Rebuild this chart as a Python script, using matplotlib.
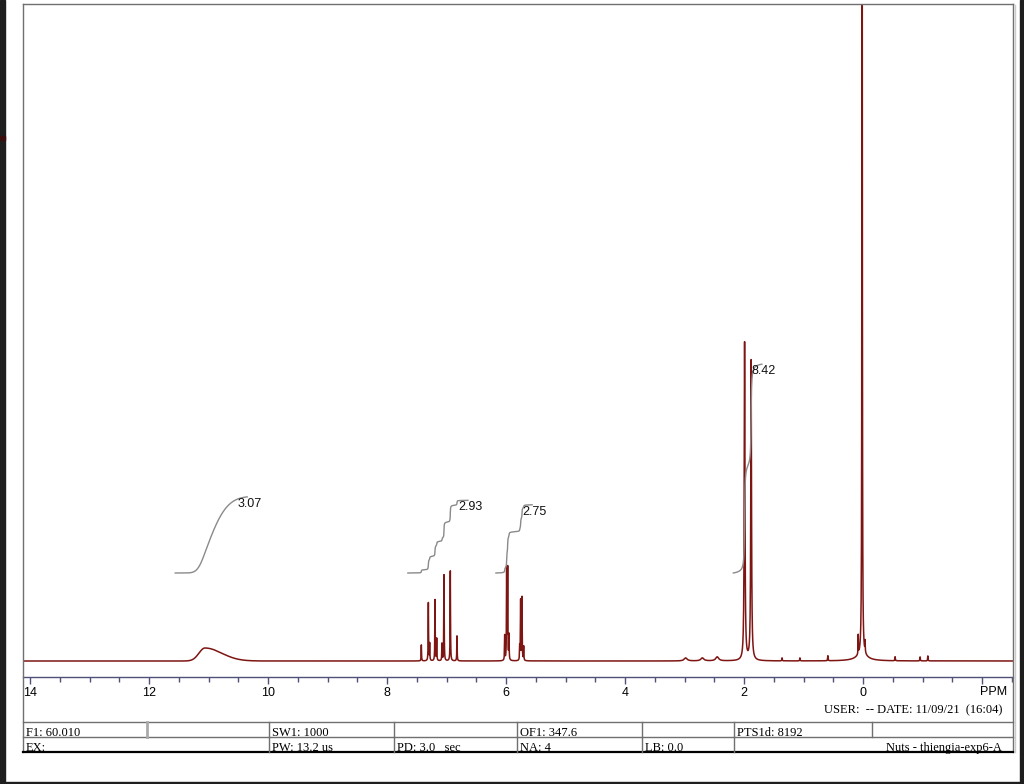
import numpy as np
import matplotlib
matplotlib.use("Agg")
import matplotlib.pyplot as plt
from matplotlib.lines import Line2D
from matplotlib.patches import Rectangle
from matplotlib.ticker import MultipleLocator

plt.rcParams['font.family'] = ['Liberation Sans', 'DejaVu Sans']

# peak list: shift (ppm), height (px above baseline), half width (ppm)
peak_ppm = [7.423, 7.305, 7.283, 7.193, 7.165, 7.076, 7.042, 6.936, 6.824,
            6.022, 5.989, 5.972, 5.950, 5.770, 5.754, 5.731, 5.703,
            1.990, 1.880,
            0.015, 0.080, -0.035, 0.020,
            2.98, 2.70, 2.45, 1.36, 1.06, 0.59, -0.54, -0.96, -1.09]
peak_height = [16, 58, 17, 61, 22, 17, 86, 90, 25,
               25, 91, 91, 25, 14, 60, 63, 14,
               318, 300,
               1000, 19, 11, 5,
               3, 3, 4, 3, 3, 5, 4, 4, 5]
peak_width = [0.0035, 0.0035, 0.0035, 0.0035, 0.0035, 0.0035, 0.0035, 0.0035, 0.0035,
              0.0035, 0.0035, 0.0035, 0.0035, 0.0035, 0.0035, 0.0035, 0.0035,
              0.0072, 0.0072,
              0.004, 0.003, 0.003, 0.12,
              0.03, 0.03, 0.03, 0.004, 0.004, 0.004, 0.004, 0.004, 0.004]

# broad exchangeable hump
hump_ppm = 11.06
hump_height = 13
hump_sigma_left = 0.10
hump_sigma_right = 0.28

# integral regions
int_start = [11.56, 7.65, 6.17, 2.18]
int_end = [10.35, 6.64, 5.56, 1.70]
int_value = [3.07, 2.93, 2.75, 8.42]
int_base = 88
int_scale = 24.8

tick_ppm = [14, 12, 10, 8, 6, 4, 2, 0, -2]
tick_text = ["14", "12", "10", "8", "6", "4", "2", "0", ""]

row1 = [("F1: 60.010", 23), ("SW1: 1000", 269), ("OF1: 347.6", 517), ("PTS1d: 8192", 734)]
row2 = [("EX:", 23), ("PW: 13.2 us", 269), ("PD: 3.0   sec", 394), ("NA: 4", 517), ("LB: 0.0", 642)]
row1_seps = [147, 269, 394, 517, 642, 734, 872]
row2_seps = [269, 394, 517, 642, 734]
user_text = "USER:  -- DATE: 11/09/21  (16:04)"
file_text = "Nuts - thiengia-exp6-A"

W, H = 1024, 784
fx = lambda px: px / W
fy = lambda py: 1 - py / H

fig = plt.figure(figsize=(W / 100, H / 100), dpi=100)
fig.patch.set_facecolor("white")

def fline(x0, y0, x1, y1, c="#707070", lw=1.0):
    fig.add_artist(Line2D([fx(x0), fx(x1)], [fy(y0), fy(y1)], transform=fig.transFigure, color=c, lw=lw))

# spectrum
ppm = np.union1d(np.linspace(-2.6, 14.2, 24001), peak_ppm)
spec = np.zeros_like(ppm)
for p, h, w in zip(peak_ppm, peak_height, peak_width):
    spec += h / (1 + ((ppm - p) / w) ** 2)
sig = np.where(ppm > hump_ppm, hump_sigma_left, hump_sigma_right)
spec += hump_height * np.exp(-0.5 * ((ppm - hump_ppm) / sig) ** 2)

ax = fig.add_axes([fx(23), fy(677), fx(1013) - fx(23), fy(4) - fy(677)])
ax.patch.set_alpha(0)
ax.plot(ppm, spec, color="#7d1512", lw=1.1)
ax.set_xlim(14.118, -2.521)
ax.set_ylim(-16, 657)

for s, e, v in zip(int_start, int_end, int_value):
    sel = (ppm <= s) & (ppm >= e)
    xs, ys = ppm[sel][::-1], spec[sel][::-1]
    cum = np.cumsum(ys)
    cum = int_base + cum / cum[-1] * v * int_scale
    ax.plot(xs, cum, color="#8a8a8a", lw=1.0)
    ax.annotate(f"{v:.2f}", xy=(xs[-1], cum[-1]), xytext=(-10, -7), textcoords="offset pixels",
                ha="left", va="center", fontsize=9, color="#111111")

for sp in ("top", "left", "right"):
    ax.spines[sp].set_visible(False)
ax.spines["bottom"].set_color("#505078")
ax.spines["bottom"].set_linewidth(1.0)
ax.set_yticks([])
ax.set_xticks(tick_ppm)
ax.set_xticklabels(tick_text)
ax.xaxis.set_minor_locator(MultipleLocator(0.5))
ax.tick_params(axis="x", which="major", direction="out", length=5, width=1, color="#505078", labelsize=9, pad=2)
ax.tick_params(axis="x", which="minor", direction="out", length=3.5, width=1, color="#505078")
fig.text(fx(1007), fy(692), "PPM", ha="right", va="center", fontsize=9)

# page frame
fline(23, 4, 1013, 4)
fline(23, 4, 23, 752)
fline(1013, 4, 1013, 752)
fline(1014.5, 5, 1014.5, 752, c="#cccccc", lw=1.0)

# parameter table
serif = ['Liberation Serif', 'DejaVu Serif']
fig.text(fx(1002), fy(713), user_text, ha="right", va="baseline", fontsize=9, family=serif)
fline(23, 722, 1013, 722)
fline(23, 737, 1013, 737)
fline(23, 752, 1013, 752, c="black", lw=1.6)
for x in row1_seps:
    if x == 147:
        fline(x, 722, x, 737, c="#aaaaaa", lw=2)
    else:
        fline(x, 722, x, 737)
for x in row2_seps:
    fline(x, 737, x, 752)
for t, x in row1:
    fig.text(fx(x + 3), fy(736), t, ha="left", va="baseline", fontsize=9, family=serif)
for t, x in row2:
    fig.text(fx(x + 3), fy(751), t, ha="left", va="baseline", fontsize=9, family=serif)
fig.text(fx(1002), fy(751), file_text, ha="right", va="baseline", fontsize=9, family=serif)

# dark screen edges
fig.add_artist(Rectangle((0, 0), fx(5), 1, transform=fig.transFigure, color="#1e1e1e"))
fig.add_artist(Rectangle((fx(1020), 0), 1 - fx(1020), 1, transform=fig.transFigure, color="#1e1e1e"))
fig.add_artist(Rectangle((0, 0), 1, 2 / H, transform=fig.transFigure, color="#1e1e1e"))
fig.add_artist(Rectangle((0, fy(140)), fx(5), 4 / H, transform=fig.transFigure, color="#3a0c0c"))

fig.savefig("out.png", dpi=100)
